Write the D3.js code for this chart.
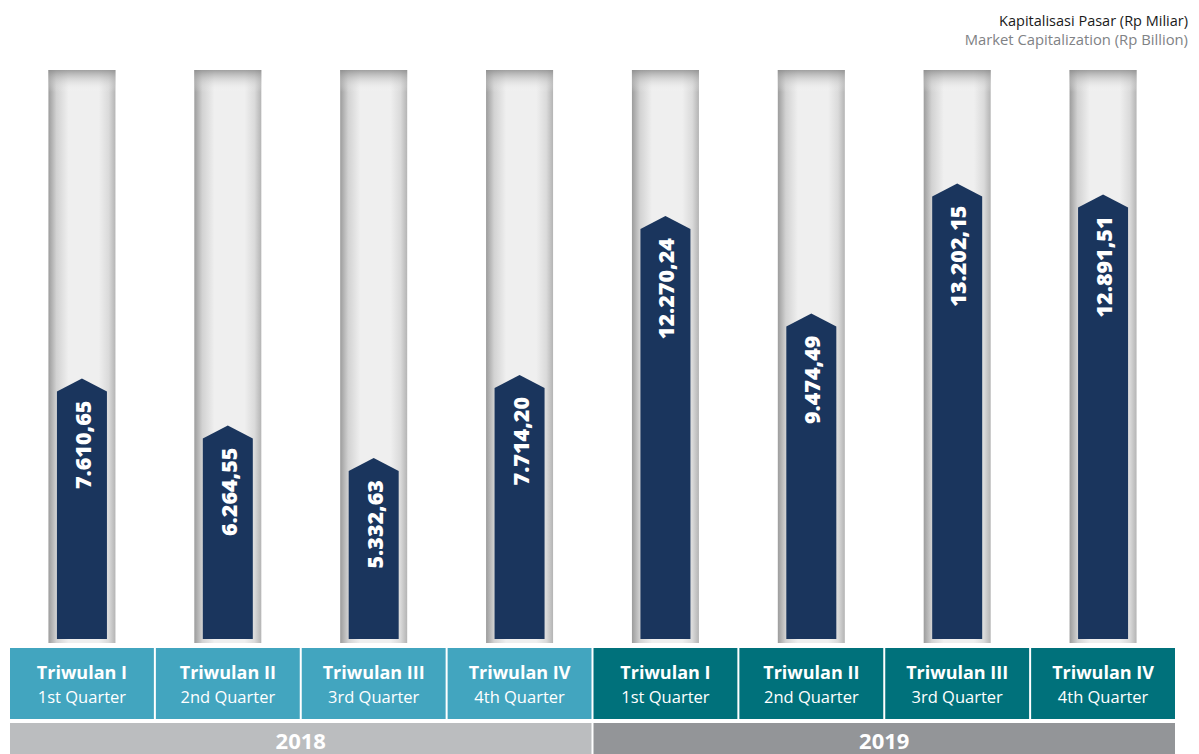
<!DOCTYPE html>
<html lang="en">
<head>
    <meta charset="utf-8" />
    <title>Kapitalisasi Pasar</title>
    <script src="https://d3js.org/d3.v7.min.js"></script>
    <style>
        body { margin: 0; background: #fff; }
        svg { display: block; font-family: "Open Sans", sans-serif; }
    </style>
</head>
<body>
    <svg></svg>
    <script>
        // data
        const years = ["2018", "2019"];
        const quarterId = ["Triwulan I", "Triwulan II", "Triwulan III", "Triwulan IV"];
        const quarterEn = ["1st Quarter", "2nd Quarter", "3rd Quarter", "4th Quarter"];
        const values = [7610.65, 6264.55, 5332.63, 7714.20, 12270.24, 9474.49, 13202.15, 12891.51];

        let width = 1199, height = 754;

        let svg = d3.select("svg")
            .attr("width", width)
            .attr("height", height)
            .attr("viewBox", "0 0 " + width + " " + height);

        let rows = values.map((v, i) => ({
            key: i,
            year: years[Math.floor(i / 4)],
            id: quarterId[i % 4],
            en: quarterEn[i % 4],
            value: v
        }));

        let x = d3.scaleBand()
            .domain(rows.map(d => d.key))
            .range([9, 1176])
            .padding(0);

        let y = d3.scaleLinear()
            .domain([0, 16460])
            .range([644, 70]);

        let fmt = d3.formatLocale({ decimal: ",", thousands: ".", grouping: [3], currency: ["Rp", ""] }).format(",.2f");

        // gradients for the empty tubes
        let defs = svg.append("defs");
        let hg = defs.append("linearGradient").attr("id", "tube").attr("x1", 0).attr("x2", 1).attr("y1", 0).attr("y2", 0);
        hg.append("stop").attr("offset", "0%").attr("stop-color", "#9c9c9c");
        hg.append("stop").attr("offset", "12%").attr("stop-color", "#d2d2d2");
        hg.append("stop").attr("offset", "30%").attr("stop-color", "#efefef");
        hg.append("stop").attr("offset", "75%").attr("stop-color", "#efefef");
        hg.append("stop").attr("offset", "90%").attr("stop-color", "#dadada");
        hg.append("stop").attr("offset", "100%").attr("stop-color", "#b4b4b4");

        let vg = defs.append("linearGradient").attr("id", "tubeTop").attr("x1", 0).attr("x2", 0).attr("y1", 0).attr("y2", 1);
        vg.append("stop").attr("offset", "0%").attr("stop-color", "#8c8c8c").attr("stop-opacity", 0.8);
        vg.append("stop").attr("offset", "100%").attr("stop-color", "#ffffff").attr("stop-opacity", 0);

        const tubeW = 67, barW = 50, tip = 13;
        let cx = d => x(d.key) + x.bandwidth() / 2;

        let cols = svg.append("g").attr("id", "bars")
            .selectAll("g")
            .data(rows)
            .enter()
            .append("g");

        cols.append("rect")
            .attr("x", d => cx(d) - tubeW / 2)
            .attr("y", y.range()[1])
            .attr("width", tubeW)
            .attr("height", 643 - y.range()[1])
            .attr("fill", "url(#tube)");

        cols.append("rect")
            .attr("x", d => cx(d) - tubeW / 2)
            .attr("y", y.range()[1])
            .attr("width", tubeW)
            .attr("height", 22)
            .attr("fill", "url(#tubeTop)");

        // arrow-headed bar
        cols.append("path")
            .attr("fill", "#1a355d")
            .attr("d", d => {
                let l = cx(d) - barW / 2, r = cx(d) + barW / 2, top = y(d.value), bot = 639;
                return "M" + l + "," + bot + "L" + l + "," + (top + tip) +
                    "L" + cx(d) + "," + top + "L" + r + "," + (top + tip) +
                    "L" + r + "," + bot + "Z";
            });

        cols.append("text")
            .attr("transform", d => "translate(" + (cx(d) + 9) + "," + (y(d.value) + tip + 9) + ") rotate(-90)")
            .attr("text-anchor", "end")
            .attr("fill", "#fff")
            .attr("font-weight", "800")
            .attr("font-size", "21.5px")
            .text(d => fmt(d.value));

        // quarter cells
        let cells = svg.append("g").attr("id", "cells")
            .selectAll("g")
            .data(rows)
            .enter()
            .append("g");

        cells.append("rect")
            .attr("x", d => x(d.key) + 1)
            .attr("y", 648)
            .attr("width", x.bandwidth() - 2)
            .attr("height", 71)
            .attr("fill", d => d.year == "2018" ? "#42a5bf" : "#00717b");

        cells.append("text")
            .attr("x", cx)
            .attr("y", 679)
            .attr("text-anchor", "middle")
            .attr("fill", "#fff")
            .attr("font-weight", "bold")
            .attr("font-size", "18px")
            .text(d => d.id);

        cells.append("text")
            .attr("x", cx)
            .attr("y", 703)
            .attr("text-anchor", "middle")
            .attr("fill", "#fff")
            .attr("font-size", "16.5px")
            .text(d => d.en);

        // year row
        let yr = svg.append("g").attr("id", "years")
            .selectAll("g")
            .data(years)
            .enter()
            .append("g");

        let yx0 = (yv, i) => x(i * 4) + 1;
        let yx1 = (yv, i) => x(i * 4 + 3) + x.bandwidth() - 1;

        yr.append("rect")
            .attr("x", yx0)
            .attr("y", 723)
            .attr("width", (d, i) => yx1(d, i) - yx0(d, i))
            .attr("height", 31)
            .attr("fill", (d, i) => i == 0 ? "#bbbdbf" : "#939598");

        yr.append("text")
            .attr("x", (d, i) => (yx0(d, i) + yx1(d, i)) / 2)
            .attr("y", 749)
            .attr("text-anchor", "middle")
            .attr("fill", "#fff")
            .attr("font-weight", "bold")
            .attr("font-size", "22px")
            .text(d => d);

        // unit label
        svg.append("text")
            .attr("x", 1188)
            .attr("y", 26)
            .attr("text-anchor", "end")
            .attr("font-size", "14.5px")
            .attr("fill", "#1a1a1a")
            .text("Kapitalisasi Pasar (Rp Miliar)");

        svg.append("text")
            .attr("x", 1188)
            .attr("y", 45)
            .attr("text-anchor", "end")
            .attr("font-size", "14.8px")
            .attr("fill", "#808285")
            .text("Market Capitalization (Rp Billion)");
    </script>
</body>
</html>
